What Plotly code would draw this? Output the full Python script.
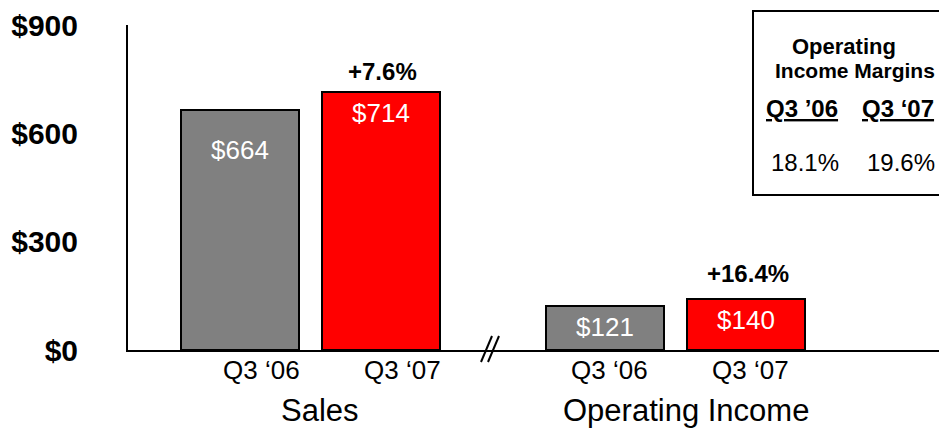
import plotly.graph_objects as go

# ---- data ----
periods = ["Q3 \u201806", "Q3 \u201807"]
groups = ["Sales", "Operating Income"]
q3_06 = [664, 121]
q3_07 = [714, 140]
growth = ["+7.6%", "+16.4%"]
margin_title = ["Operating", "Income Margins"]
margin_periods = ["Q3 \u201906", "Q3 \u201807"]
margins = ["18.1%", "19.6%"]
y_ticks = [0, 300, 600, 900]

# ---- layout constants ----
W, H = 939, 430
L, R, T, B = 128, 0, 25, 80
group_pos = [0.0, 2.589]
bar_w = 0.837
x_range = [-0.794, 4.957]
FONT = "Liberation Sans, Arial, sans-serif"
GRAY = "#808080"
RED = "#FF0000"

pw, ph = W - L - R, H - T - B


def px(xp):
    return (xp - L) / pw


def py(yp):
    return (H - B - yp) / ph


fig = go.Figure()
series = [q3_06, q3_07]
colors = [GRAY, RED]
for j, vals in enumerate(series):
    fig.add_trace(go.Bar(
        x=[g + j for g in group_pos], y=vals, width=bar_w,
        marker=dict(color=colors[j], line=dict(color="black", width=2)),
        showlegend=False, hoverinfo="skip"))

ann = []
# value labels inside bars
val_shift = [[-40, -21], [-21, -21]]
for gi, g in enumerate(group_pos):
    for j, vals in enumerate(series):
        ann.append(dict(x=g + j, y=vals[gi], xref="x", yref="y",
                        text=f"${vals[gi]}", showarrow=False,
                        xanchor="center", yanchor="middle",
                        yshift=val_shift[gi][j],
                        font=dict(family=FONT, size=26, color="white")))
        # category labels
        ann.append(dict(x=g + j, y=0, xref="x", yref="y",
                        text=periods[j], showarrow=False,
                        xanchor="center", yanchor="middle", yshift=-20,
                        xshift=[22, 4][gi],
                        font=dict(family=FONT, size=26, color="black")))
    # group labels
    ann.append(dict(x=g + 0.5, y=0, xref="x", yref="y",
                    text=groups[gi], showarrow=False,
                    xanchor="center", yanchor="middle", yshift=-60, xshift=10,
                    font=dict(family=FONT, size=31, color="black")))
    # growth labels
    ann.append(dict(x=g + 1, y=q3_07[gi], xref="x", yref="y",
                    text=f"<b>{growth[gi]}</b>", showarrow=False,
                    xanchor="center", yanchor="middle",
                    yshift=[21, 26][gi], xshift=2,
                    font=dict(family=FONT, size=24, color="black")))

# margins box text
box_text = [
    (844, 46, f"<b>{margin_title[0]}</b>", 22),
    (855, 71, f"<b>{margin_title[1]}</b>", 21),
    (802, 108, f"<b><u>{margin_periods[0]}</u></b>", 24),
    (898, 108, f"<b><u>{margin_periods[1]}</u></b>", 24),
    (805, 162, margins[0], 24),
    (901, 162, margins[1], 24),
]
for cx, cy, txt, sz in box_text:
    ann.append(dict(x=px(cx), y=py(cy), xref="paper", yref="paper",
                    text=txt, showarrow=False,
                    xanchor="center", yanchor="middle",
                    font=dict(family=FONT, size=sz, color="black")))

shapes = [
    dict(type="rect", xref="paper", yref="paper",
         x0=px(753), x1=px(950), y0=py(195), y1=py(11),
         line=dict(color="black", width=2), fillcolor="rgba(0,0,0,0)"),
    dict(type="line", xref="paper", yref="paper",
         x0=px(481), y0=py(362), x1=px(492), y1=py(336),
         line=dict(color="black", width=2)),
    dict(type="line", xref="paper", yref="paper",
         x0=px(488), y0=py(362), x1=px(499), y1=py(336),
         line=dict(color="black", width=2)),
]

fig.update_layout(
    width=W, height=H,
    margin=dict(l=L, r=R, t=T, b=B, pad=0),
    paper_bgcolor="white", plot_bgcolor="white",
    annotations=ann, shapes=shapes,
    bargap=0,
    xaxis=dict(range=x_range, showline=True, linecolor="black", linewidth=2,
               showgrid=False, zeroline=False, showticklabels=False,
               ticks="", fixedrange=True),
    yaxis=dict(range=[0, 900], showline=True, linecolor="black", linewidth=2,
               showgrid=False, zeroline=False, tickvals=y_ticks,
               ticktext=[f"${v}" for v in y_ticks], ticks="",
               ticklabelstandoff=42,
               tickfont=dict(family=FONT, size=30, color="black", weight="bold"),
               fixedrange=True),
)

fig.write_html("out.html", config={"displayModeBar": False})
